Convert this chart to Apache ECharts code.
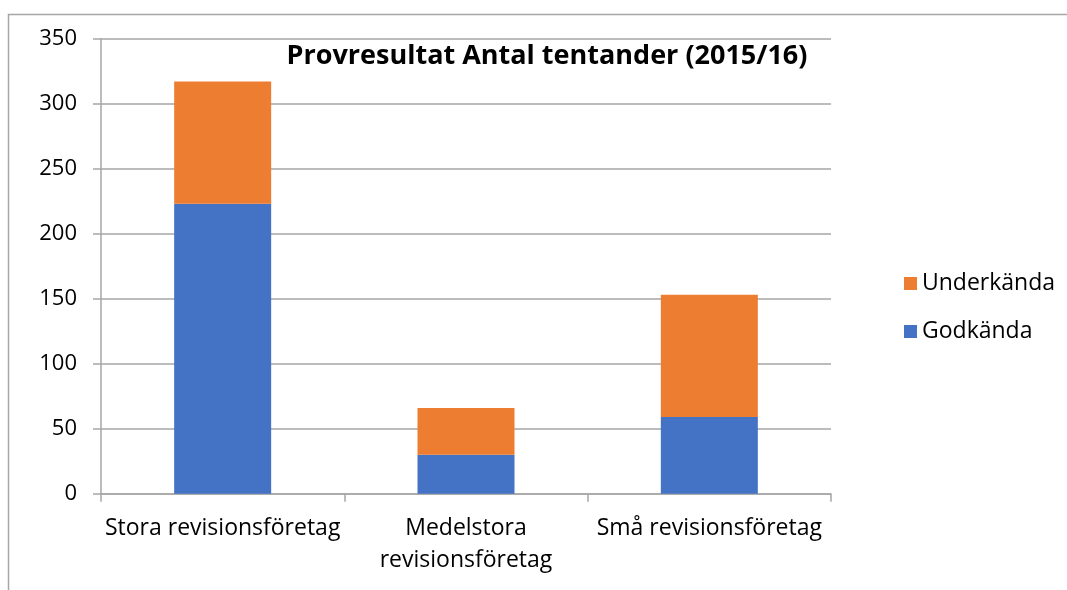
<!DOCTYPE html>
<html>
<head>
<meta charset="utf-8">
<script src="https://cdn.jsdelivr.net/npm/echarts@6/dist/echarts.min.js"></script>
<style>
html,body{margin:0;padding:0;background:#fff;}
#chart{width:1067px;height:590px;}
</style>
</head>
<body>
<div id="chart"></div>
<script>
const categories = ['Stora revisionsföretag', 'Medelstora revisionsföretag', 'Små revisionsföretag'];
const godkanda = [223, 30, 59];
const underkanda = [94, 36, 94];
const seriesNames = ['Godkända', 'Underkända'];
const yTicks = { min: 0, max: 350, interval: 50 };
const titleText = 'Provresultat Antal tentander (2015/16)';

const FONT = 'Open Sans';
const chart = echarts.init(document.getElementById('chart'));
chart.setOption({
  animation: false,
  backgroundColor: '#ffffff',
  textStyle: { fontFamily: FONT },
  title: {
    text: titleText,
    left: 542, top: 38, textAlign: 'center',
    textStyle: { fontFamily: FONT, fontWeight: 'bold', fontSize: 27, color: '#000' }
  },
  graphic: [{
    type: 'rect', silent: true,
    shape: { x: 8.5, y: 14.5, width: 1200, height: 800 },
    style: { fill: 'none', stroke: '#a6a6a6', lineWidth: 1.5 }
  }],
  legend: {
    orient: 'vertical',
    left: 899, top: 267,
    itemWidth: 13, itemHeight: 13, itemGap: 25,
    data: ['Underkända', 'Godkända'],
    textStyle: { fontFamily: FONT, fontSize: 23, color: '#000', padding: [0, 0, 0, 0] },
    icon: 'rect'
  },
  grid: { left: 101, right: 236, top: 38.7, bottom: 96.3, containLabel: false },
  xAxis: {
    type: 'category',
    data: categories,
    axisLine: { lineStyle: { color: '#a6a6a6', width: 1.5 } },
    axisTick: { show: true, length: 8, lineStyle: { color: '#a6a6a6', width: 1.5 }, alignWithLabel: false },
    axisLabel: {
      color: '#000', fontFamily: FONT, fontSize: 23, margin: 19, lineHeight: 32,
      interval: 0,
      formatter: v => v.length > 24 ? v.replace(' ', '\n') : v
    }
  },
  yAxis: {
    type: 'value',
    min: yTicks.min, max: yTicks.max, interval: yTicks.interval,
    axisLine: { show: true, lineStyle: { color: '#a6a6a6', width: 1.5 } },
    axisTick: { show: true, length: 8, lineStyle: { color: '#a6a6a6', width: 1.5 } },
    splitLine: { lineStyle: { color: '#a6a6a6', width: 1.5 } },
    axisLabel: { color: '#000', fontFamily: FONT, fontSize: 22, margin: 24 }
  },
  series: [
    { name: seriesNames[0], type: 'bar', stack: 'a', data: godkanda, barWidth: 97,
      itemStyle: { color: '#4472c4' } },
    { name: seriesNames[1], type: 'bar', stack: 'a', data: underkanda, barWidth: 97,
      itemStyle: { color: '#ed7d31' } }
  ]
});
</script>
</body>
</html>
